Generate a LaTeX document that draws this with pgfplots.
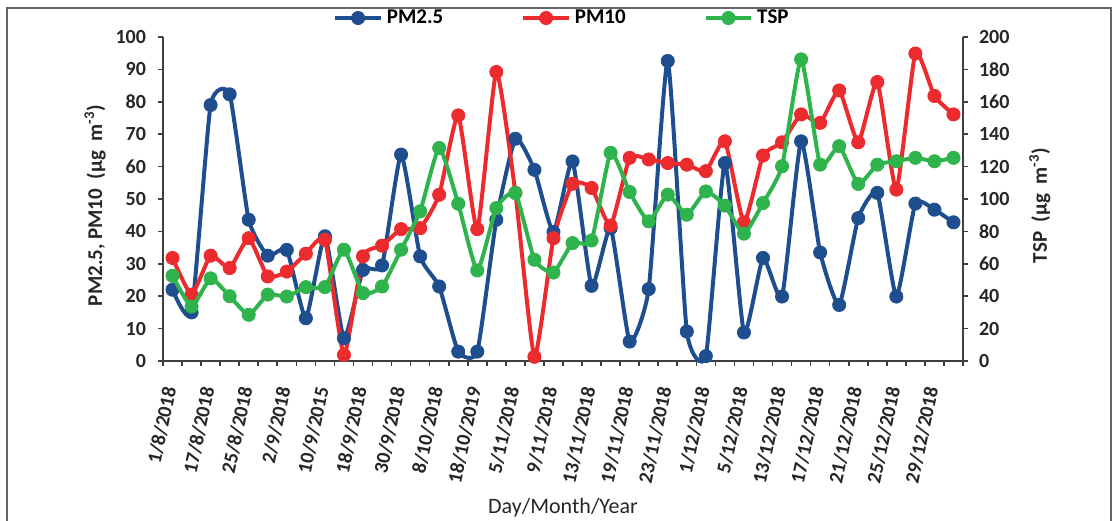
\documentclass[border=0pt]{standalone}
\usepackage{pgfplots}
\usepackage{pgfplotstable}
\pgfplotsset{compat=1.18}
\usepackage{fontspec}
\setmainfont{Carlito}
\definecolor{cblue}{HTML}{1F4E8F}
\definecolor{cred}{HTML}{EC2B2E}
\definecolor{cgreen}{HTML}{2FB34C}
\definecolor{axgray}{HTML}{404040}

\pgfplotstableread{
x pmtwo pmten tsp
0 22 31.8 52.6
1 15 20.5 33.6
2 79 32.5 51
3 82.3 28.7 40
4 43.6 37.9 28.5
5 32.5 26.1 41
6 34.3 27.6 39.8
7 13.2 33.1 45.6
8 38.5 37.4 45.6
9 7 1.9 68.7
10 28.1 32.3 41.9
11 29.5 35.6 46
12 63.7 40.7 68.7
13 32.3 41 92.4
14 23 51.3 131.5
15 2.9 75.8 97.1
16 2.9 40.7 55.9
17 43.6 89.2 94.4
18 68.6 51.9 103.7
19 59 1.3 62.5
20 39.8 37.9 54.6
21 61.6 54.7 72.8
22 23.2 53.4 74.4
23 41 41.8 128.5
24 6 62.7 104.3
25 22.2 62.2 86.2
26 92.6 61.1 102.7
27 9.1 60.6 90.3
28 1.5 58.6 104.7
29 61.1 67.8 95.9
30 8.8 42.8 78.6
31 31.8 63.4 97.5
32 19.9 67.5 120.2
33 67.8 76.1 186.2
34 33.5 73.5 121.2
35 17.3 83.5 132.6
36 44.1 67.5 109.3
37 51.9 86.1 121.2
38 19.9 52.9 123.3
39 48.6 94.9 125.4
40 46.7 81.8 123.3
41 42.8 76.1 125.4
}\data

\pgfplotsset{
  base/.style={
    scale only axis, width=400pt, height=162pt,
    xmin=-0.5, xmax=41.5, clip=false,
    tick align=outside, major tick length=2.5pt,
    axis line style={line width=0.8pt, color=axgray},
    every tick/.style={line width=0.8pt, color=axgray},
    ticklabel style={font=\bfseries\fontsize{10}{12}\selectfont, text=black!85},
    /pgf/number format/assume math mode=true,
    label style={text=black!85},
  },
  ser/.style={smooth, tension=0.3, line width=2pt, color=#1, mark=*, mark size=3.3pt, mark options={fill=#1, draw=#1, line width=0.4pt}},
  legend image code/.code={\draw[mark repeat=2,mark phase=2] plot coordinates {(0cm,0cm) (0.4cm,0cm) (0.8cm,0cm)};},
}

\begin{document}
\begin{tikzpicture}
\useasboundingbox (-81.5pt,-79.5pt) rectangle (477.5pt,180.5pt);
\draw[black!60, line width=0.6pt] (-78pt,-95pt) -- (-78pt,176.5pt) -- (474pt,176.5pt) -- (474pt,-95pt);
\begin{axis}[base,
  axis x line*=bottom, axis y line*=left,
  ymin=0, ymax=100, ytick={0,10,...,100},
  yticklabel style={xshift=-2.5pt},
  xtick={-0.5,0.5,...,41.5},
  xticklabels={1/8/2018,,17/8/2018,,25/8/2018,,2/9/2018,,10/9/2015,,18/9/2018,,30/9/2018,,8/10/2018,,18/10/2019,,5/11/2018,,9/11/2018,,13/11/2018,,19/11/2018,,23/11/2018,,1/12/2018,,5/12/2018,,13/12/2018,,17/12/2018,,21/12/2018,,25/12/2018,,29/12/2018,,},
  xticklabel style={xshift=4.3pt, yshift=-7pt, rotate=78, anchor=east},
  xlabel={Day/Month/Year},
  xlabel style={at={(axis description cs:0.5,-0.4537)}, anchor=center, font=\fontsize{11}{13}\selectfont},
  ylabel={\bfseries PM2.5, PM10\ \ (µg\ \ m\textsuperscript{-3})},
  ylabel style={at={(axis description cs:-0.085,0.48)}, anchor=center, font=\fontsize{10.5}{12}\selectfont},
]
\addplot[ser=cblue] table[x=x, y=pmtwo] {\data};
\addplot[ser=cred] table[x=x, y=pmten] {\data};
\end{axis}
\begin{axis}[base,
  axis x line=none, axis y line*=right,
  ymin=0, ymax=200, ytick={0,20,...,200},
  yticklabel style={xshift=2pt},
  ylabel={\bfseries TSP\ \ (µg\ \ m\textsuperscript{-3})},
  ylabel style={at={(axis description cs:1.096,0.48)}, anchor=center, font=\fontsize{10.5}{12}\selectfont},
  legend columns=3,
  legend style={at={(axis description cs:0.5,1.0586)}, anchor=center, draw=none, fill=none,
    font=\bfseries\fontsize{10.5}{12}\selectfont, /tikz/every even column/.append style={column sep=37pt}},
]
\addlegendimage{ser=cblue}
\addlegendentry{PM2.5}
\addlegendimage{ser=cred}
\addlegendentry{PM10}
\addplot[ser=cgreen] table[x=x, y=tsp] {\data};
\addlegendentry{TSP}
\end{axis}
\end{tikzpicture}
\end{document}
